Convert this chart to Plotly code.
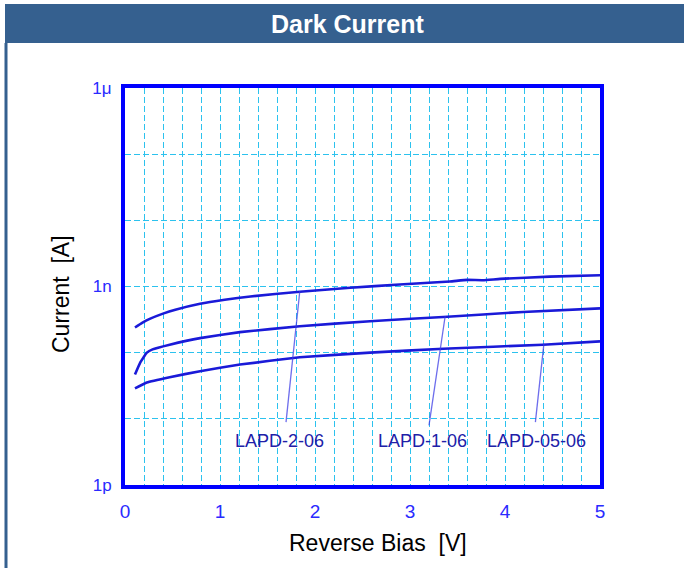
import plotly.graph_objects as go

# ---- data ----
bias_2_06 = [0.105, 0.18, 0.26, 0.4, 0.53, 0.79, 1.05, 1.32, 1.84, 2.37, 2.89, 3.42, 3.6, 3.77, 3.95, 4.47, 5.0]
log_i_2_06 = [-9.62, -9.55, -9.49, -9.41, -9.35, -9.26, -9.20, -9.15, -9.08, -9.02, -8.97, -8.925, -8.90, -8.905, -8.885, -8.85, -8.83]

bias_1_06 = [0.105, 0.16, 0.23, 0.29, 0.47, 0.79, 1.21, 1.84, 2.58, 3.35, 4.19, 5.0]
log_i_1_06 = [-10.33, -10.15, -10.0, -9.95, -9.88, -9.78, -9.69, -9.6, -9.525, -9.46, -9.385, -9.33]

bias_05_06 = [0.105, 0.23, 0.47, 0.79, 1.21, 1.84, 2.58, 3.35, 4.40, 5.0]
log_i_05_06 = [-10.54, -10.45, -10.37, -10.28, -10.18, -10.07, -10.0, -9.94, -9.88, -9.83]

series_names = ["LAPD-2-06", "LAPD-1-06", "LAPD-05-06"]
label_x = [1.63, 3.13, 4.33]
label_log_y = [-11.34, -11.34, -11.34]
leader_x = [[1.84, 1.695], [3.37, 3.20], [4.41, 4.32]]
leader_log_y = [[-9.07, -11.05], [-9.45, -11.10], [-9.86, -11.05]]

x_tick_vals = [0, 1, 2, 3, 4, 5]
y_tick_exps = [-12, -11, -10, -9, -8, -7, -6]
y_tick_text = ["1p", "", "", "1n", "", "", "1μ"]

# ---- figure ----
FONT = "Liberation Sans, Arial, sans-serif"
CURVE = "#1a1ad8"
fig = go.Figure()

for xs, ls in [(bias_2_06, log_i_2_06), (bias_1_06, log_i_1_06), (bias_05_06, log_i_05_06)]:
    fig.add_trace(go.Scatter(x=xs, y=[10 ** v for v in ls], mode="lines",
                             line=dict(color=CURVE, width=2.6, shape="spline", smoothing=0.3),
                             showlegend=False, hoverinfo="skip"))

for lx, ly in zip(leader_x, leader_log_y):
    fig.add_trace(go.Scatter(x=lx, y=[10 ** v for v in ly], mode="lines",
                             line=dict(color="rgba(60,60,230,0.75)", width=1.3),
                             showlegend=False, hoverinfo="skip"))

for name, lx, ly in zip(series_names, label_x, label_log_y):
    fig.add_annotation(x=lx, y=ly, xref="x", yref="y", text=name, showarrow=False,
                       xanchor="center", yanchor="middle",
                       font=dict(family=FONT, size=18, color="#2020a8"))

GRID = "#2cc2ee"
GDASH = "6px,3px"
fig.update_xaxes(range=[0, 5], tickvals=x_tick_vals, ticks="", showgrid=True,
                 gridcolor=GRID, griddash=GDASH, gridwidth=1,
                 minor=dict(dtick=0.2, showgrid=True, gridcolor=GRID, griddash=GDASH, gridwidth=1),
                 showline=True, linecolor="#0000ff", linewidth=4, mirror=True,
                 zeroline=False, ticklabelstandoff=6,
                 tickfont=dict(family=FONT, size=19, color="#2a2aff"))
fig.update_yaxes(type="log", range=[-12, -6], tickvals=[10 ** e for e in y_tick_exps],
                 ticktext=y_tick_text, ticks="", showgrid=True,
                 gridcolor=GRID, griddash=GDASH, gridwidth=1,
                 showline=True, linecolor="#0000ff", linewidth=4, mirror=True,
                 zeroline=False, ticklabelstandoff=6,
                 tickfont=dict(family=FONT, size=17, color="#2a2aff"))

# axis titles
fig.add_annotation(xref="paper", yref="paper", x=(378 - 125) / 475, y=(485 - 543) / 397,
                   xanchor="center", yanchor="middle", showarrow=False,
                   text="Reverse Bias \u00a0[V]",
                   font=dict(family=FONT, size=23, color="#000000"))
fig.add_annotation(xref="paper", yref="paper", x=(61 - 125) / 475, y=(485 - 294) / 397,
                   xanchor="center", yanchor="middle", showarrow=False, textangle=-90,
                   text="Current \u00a0[A]",
                   font=dict(family=FONT, size=23, color="#000000"))

# title bar and page border
fig.add_shape(type="rect", xref="paper", yref="paper",
              x0=(5 - 125) / 475, x1=(684 - 125) / 475,
              y0=(485 - 43) / 397, y1=(485 - 4) / 397,
              fillcolor="#35608f", line=dict(width=0), layer="below")
fig.add_shape(type="line", xref="paper", yref="paper",
              x0=(6 - 125) / 475, x1=(6 - 125) / 475,
              y0=(485 - 568) / 397, y1=(485 - 43) / 397,
              line=dict(color="#35608f", width=3), layer="below")
fig.add_annotation(xref="paper", yref="paper", x=(347 - 125) / 475, y=(485 - 24) / 397,
                   xanchor="center", yanchor="middle",
                   text="<b>Dark Current</b>", showarrow=False,
                   font=dict(family=FONT, size=25, color="#ffffff"))

fig.update_layout(width=684, height=568, margin=dict(l=125, r=84, t=88, b=83),
                  paper_bgcolor="#ffffff", plot_bgcolor="#ffffff",
                  font=dict(family=FONT))

fig.write_html("out.html", config={"displayModeBar": False},
               post_script="document.body.style.margin='0';document.body.style.overflow='hidden';")
